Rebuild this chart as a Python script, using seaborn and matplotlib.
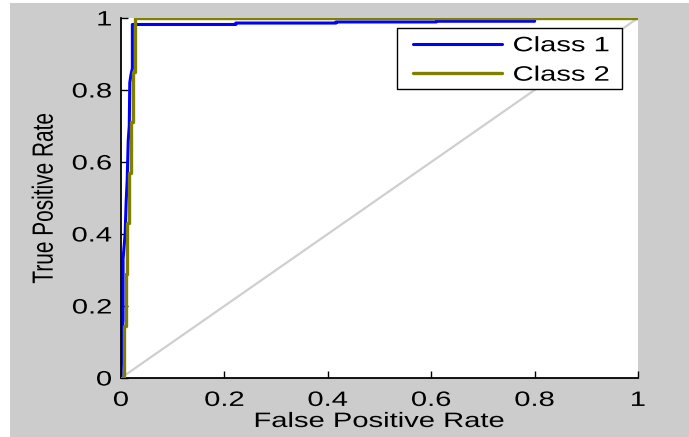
import matplotlib
matplotlib.use("Agg")
import matplotlib.pyplot as plt
import seaborn as sns
import pandas as pd
from matplotlib.patches import Rectangle
from matplotlib.patheffects import AbstractPathEffect
from matplotlib.transforms import Affine2D

# ROC curve points
class1_fpr = [0, 0.003, 0.004, 0.004, 0.008, 0.010, 0.012, 0.014, 0.016, 0.017, 0.019, 0.022, 0.022,
              0.222, 0.222, 0.416, 0.416, 0.610, 0.610, 0.800, 0.800, 1.0]
class1_tpr = [0, 0.14, 0.16, 0.33, 0.40, 0.49, 0.55, 0.66, 0.70, 0.82, 0.84, 0.86, 0.982,
              0.982, 0.986, 0.986, 0.989, 0.989, 0.991, 0.991, 1.0, 1.0]

class2_fpr = [0, 0.005, 0.005, 0.009, 0.009, 0.012, 0.012, 0.016, 0.016, 0.019, 0.019,
              0.024, 0.024, 0.028, 0.028, 1.0]
class2_tpr = [0, 0.0, 0.145, 0.145, 0.29, 0.29, 0.43, 0.43, 0.57, 0.57, 0.71,
              0.71, 0.85, 0.85, 1.0, 1.0]

chance = [0, 1]
ticks = [0, 0.2, 0.4, 0.6, 0.8, 1]
tick_labels = ["0", "0.2", "0.4", "0.6", "0.8", "1"]


# the original screenshot is squashed sideways, so the text looks wide.
# this stretches the drawn glyphs horizontally (text stays text)
class Stretch(AbstractPathEffect):
    def __init__(self, sx=1.4, anchor="center"):
        super().__init__()
        self.sx = sx
        self.anchor = anchor

    def draw_path(self, renderer, gc, tpath, affine, rgbFace=None):
        ext = tpath.get_extents(affine)
        if self.anchor == "left":
            cx = ext.x0
        elif self.anchor == "right":
            cx = ext.x1
        else:
            cx = (ext.x0 + ext.x1) / 2
        aff = affine + Affine2D().translate(-cx, 0).scale(self.sx, 1).translate(cx, 0)
        renderer.draw_path(gc, tpath, aff, rgbFace)


sns.set_style("white")
plt.rcParams['font.family'] = ['Liberation Sans', 'DejaVu Sans']
plt.rcParams['text.color'] = 'black'
plt.rcParams['xtick.color'] = 'black'
plt.rcParams['ytick.color'] = 'black'
plt.rcParams['axes.labelcolor'] = 'black'

fs = 15
px = fs * 100 / 72  # font size in pixels

fig = plt.figure(figsize=(6.89, 4.37), dpi=100)
fig.patch.set_facecolor("white")
# matlab style grey figure area
fig.patches.append(Rectangle((10 / 689, 0), 679 / 689, 434 / 437, transform=fig.transFigure,
                             facecolor="#cccccc", edgecolor="none", zorder=-10))

ax = fig.add_axes([121 / 689, 59 / 437, 517 / 689, 360 / 437])
ax.set_zorder(5)
ax.set_facecolor("white")

df1 = pd.DataFrame({"fpr": class1_fpr, "tpr": class1_tpr})
df2 = pd.DataFrame({"fpr": class2_fpr, "tpr": class2_tpr})

ax.plot(chance, chance, color="#cfcfcf", lw=1.6, zorder=1)
sns.lineplot(data=df1, x="fpr", y="tpr", sort=False, estimator=None, color="#0000ff",
             lw=2.2, label="Class 1", ax=ax, zorder=2)
sns.lineplot(data=df2, x="fpr", y="tpr", sort=False, estimator=None, color="#808000",
             lw=2.4, label="Class 2", ax=ax, zorder=3)

ax.set_xlim(0, 1)
ax.set_ylim(0, 1)
ax.set_xticks(ticks)
ax.set_xticklabels(tick_labels)
ax.set_yticks(ticks)
ax.set_yticklabels(tick_labels)
ax.tick_params(direction="in", length=5, width=1, labelsize=fs, color="black",
               left=True, bottom=True)
ax.tick_params(axis="x", pad=9.3)
ax.tick_params(axis="y", pad=6.5)

for side in ["top", "right"]:
    ax.spines[side].set_visible(False)
for side in ["left", "bottom"]:
    ax.spines[side].set_color("black")
    ax.spines[side].set_linewidth(1.3)

ax.set_xlabel("False Positive Rate", fontsize=fs, labelpad=1.5)
ax.set_ylabel("True Positive Rate", fontsize=fs, labelpad=21)

for t in ax.get_xticklabels():
    t.set_path_effects([Stretch(1.4, "center")])
for t in ax.get_yticklabels():
    t.set_path_effects([Stretch(1.4, "right")])
ax.xaxis.label.set_path_effects([Stretch(1.4, "center")])
ax.yaxis.label.set_path_effects([Stretch(1.4, "center")])

# legend: frame drawn separately (397..622 px wide, 28..89 px tall),
# entries start with the line at x=413 px
ax.add_patch(Rectangle(((397 - 121) / 517, (378 - 89) / 360), 225 / 517, 61 / 360,
                       transform=ax.transAxes, facecolor="white", edgecolor="black",
                       lw=1.0, zorder=4, clip_on=False))
leg = ax.legend(loc="upper left", bbox_to_anchor=((413 - 121) / 517, (378 - 36.25) / 360),
                fontsize=fs, frameon=False, handlelength=89 / px, handletextpad=11 / px,
                borderpad=0, labelspacing=0.5, borderaxespad=0)
leg.set_zorder(6)
for t in leg.get_texts():
    t.set_path_effects([Stretch(1.4, "left")])

fig.savefig("out.png", dpi=100, facecolor=fig.get_facecolor())
